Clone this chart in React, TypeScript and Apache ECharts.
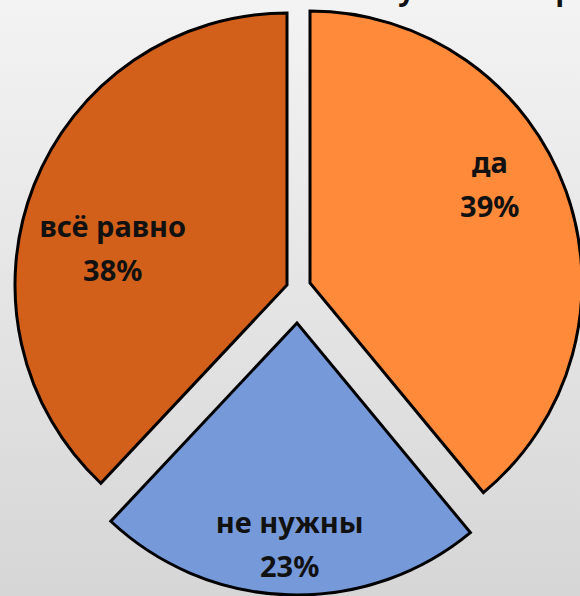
import React, { useEffect, useRef } from "react";
import * as echarts from "echarts";

const categories = ["да", "не нужны", "всё равно"];
const values = [39, 23, 38];
const colors = ["#FF8A3A", "#7699DA", "#D2601A"];
const centers: [number, number][] = [
  [310, 283],
  [297, 323],
  [287, 285],
];
const labelShift = [
  { dx: 49, dy: -52 },
  { dx: -3, dy: 82 },
  { dx: -45, dy: 14 },
];
const titleText = "Нужны ли прививки?";

export default function App() {
  const ref = useRef<HTMLDivElement>(null);
  useEffect(() => {
    if (!ref.current) return;
    const chart = echarts.init(ref.current, null, { renderer: "svg" });
    const series = categories.map((_, si) => ({
      type: "pie",
      radius: 272,
      center: centers[si],
      startAngle: 90,
      clockwise: true,
      animation: false,
      silent: true,
      labelLayout: labelShift[si],
      data: categories.map((name, i) => ({
        name,
        value: values[i],
        itemStyle:
          i === si
            ? { color: colors[i], borderColor: "#000", borderWidth: 3, borderJoin: "miter" }
            : { color: "rgba(0,0,0,0)", borderWidth: 0 },
        label:
          i === si
            ? {
                show: true,
                position: "inside",
                formatter: "{b}\n{c}%",
                color: "#111",
                fontFamily: "Noto Sans",
                fontWeight: "bold",
                fontSize: 29,
                lineHeight: 44,
                align: "center",
              }
            : { show: false },
        labelLine: { show: false },
      })),
    }));
    chart.setOption({
      animation: false,
      backgroundColor: {
        type: "linear",
        x: 0,
        y: 0,
        x2: 0,
        y2: 1,
        colorStops: [
          { offset: 0, color: "#F3F3F3" },
          { offset: 1, color: "#D6D6D6" },
        ],
      },
      graphic: [
        {
          type: "text",
          left: 376,
          top: -26,
          style: {
            text: titleText,
            fill: "#111",
            font: "bold 29px 'Noto Sans'",
          },
        },
      ],
      series,
    });
    return () => chart.dispose();
  }, []);
  return (
    <div
      ref={ref}
      style={{ position: "fixed", left: 0, top: 0, width: 580, height: 596 }}
    />
  );
}
